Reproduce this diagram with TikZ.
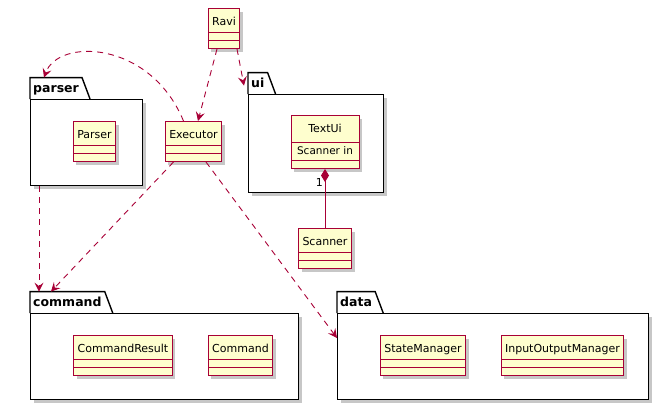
\documentclass[tikz,border=0pt]{standalone}
\usepackage{fontspec}
\setmainfont{DejaVu Sans}
\usetikzlibrary{positioning,calc,shadows,arrows.meta}

\definecolor{umlred}{HTML}{A80036}
\definecolor{umlyellow}{HTML}{FEFECE}

\tikzset{
    compartments/.style={path picture={
        \draw[umlred, line width=1pt] ([yshift=8pt]path picture bounding box.south west) -- ([yshift=8pt]path picture bounding box.south east);
        \draw[umlred, line width=1pt] ([yshift=#1]path picture bounding box.south west) -- ([yshift=#1]path picture bounding box.south east);
    }},
    cls/.style={draw=umlred, fill=umlyellow, line width=1pt, anchor=north,
        font=\fontsize{11}{13}\selectfont, inner xsep=4pt, inner ysep=0pt,
        text height=17pt, text depth=23pt, compartments=16pt,
        drop shadow={shadow xshift=3pt, shadow yshift=-3pt, fill=black, opacity=0.22}},
    attr/.style={font=\fontsize{10.5}{12}\selectfont, inner sep=0pt},
    pkg/.style={draw, fill=white, line width=1.4pt, anchor=north west, inner sep=0pt,
        drop shadow={shadow xshift=3pt, shadow yshift=-3pt, fill=black, opacity=0.22}},
    pkgtab/.style={font=\fontsize{12.5}{14}\selectfont\bfseries, anchor=south west,
        inner xsep=3pt, inner ysep=4pt, text height=11pt, text depth=2pt},
    pkgline/.style={line width=1.4pt, line join=miter},
    dep/.style={umlred, line width=0.9pt, dash pattern=on 6pt off 5pt,
        -{Stealth[length=9pt,width=9pt,inset=3.5pt]}},
    compose/.style={umlred, line width=1pt, {Diamond[length=13pt,width=8pt]}-}
}

\begin{document}
\begin{tikzpicture}[x=1pt, y=-1pt]
    \useasboundingbox (0,0) rectangle (669,410);

    % packages
    \node[pkg, minimum width=112pt, minimum height=86pt] (parser) at (30,99) {};
    \node[pkgtab] (parsertab) at (parser.north west) {parser};
    \node[pkg, minimum width=135pt, minimum height=98pt] (ui) at (248,94) {};
    \node[pkgtab] (uitab) at (ui.north west) {ui};
    \node[pkg, minimum width=268pt, minimum height=86pt] (command) at (30,313) {};
    \node[pkgtab] (commandtab) at (command.north west) {command};
    \node[pkg, minimum width=311pt, minimum height=86pt] (data) at (337,313) {};
    \node[pkgtab] (datatab) at (data.north west) {data};
    \foreach \p in {parser,ui,command,data}
        \draw[pkgline] (\p tab.south west) -- (\p tab.north west) -- (\p tab.north east) -- ([xshift=8pt]\p tab.south east);

    % classes
    \node[cls] (Ravi) at (224,8) {Ravi};
    \node[cls] (Parser) at (94.5,121) {Parser};
    \node[cls] (Executor) at (193.5,121) {Executor};
    \node[cls, text depth=36pt, minimum width=68pt, compartments=26pt] (TextUi) at (325,115) {TextUi};
    \node[attr, anchor=base] (textuiattr) at ([yshift=-39pt]TextUi.north) {Scanner in};
    \node[cls] (Scanner) at (325,228) {Scanner};
    \node[cls] (CommandResult) at (123,335) {CommandResult};
    \node[cls] (Command) at (240.5,335) {Command};
    \node[cls] (StateManager) at (423,335) {StateManager};
    \node[cls] (InputOutputManager) at (562.5,335) {InputOutputManager};

    % composition
    \draw[compose] (TextUi.south) -- (Scanner.north);
    \node[attr, font=\fontsize{11}{13}\selectfont, anchor=north east] (multone) at ([xshift=-2pt, yshift=-9pt]TextUi.south) {1};

    % dependencies
    \draw[dep] ([xshift=-7pt]Ravi.south) -- ([xshift=4.5pt]Executor.north);
    \draw[dep] ([xshift=13pt]Ravi.south) -- ([xshift=-4pt, yshift=-13pt]uitab.north west);
    \draw[dep] ([xshift=-10pt]Executor.north) .. controls (150,40) and (58,38) .. ([xshift=14pt]parsertab.north west);
    \draw[dep] ([xshift=9pt]parser.south west) -- ([xshift=9pt]commandtab.north west);
    \draw[dep] ([xshift=-20pt]Executor.south) -- ([xshift=21pt]commandtab.north west);
    \draw[dep] ([xshift=12.5pt]Executor.south) -- ([yshift=-25pt]data.north west);
\end{tikzpicture}
\end{document}
